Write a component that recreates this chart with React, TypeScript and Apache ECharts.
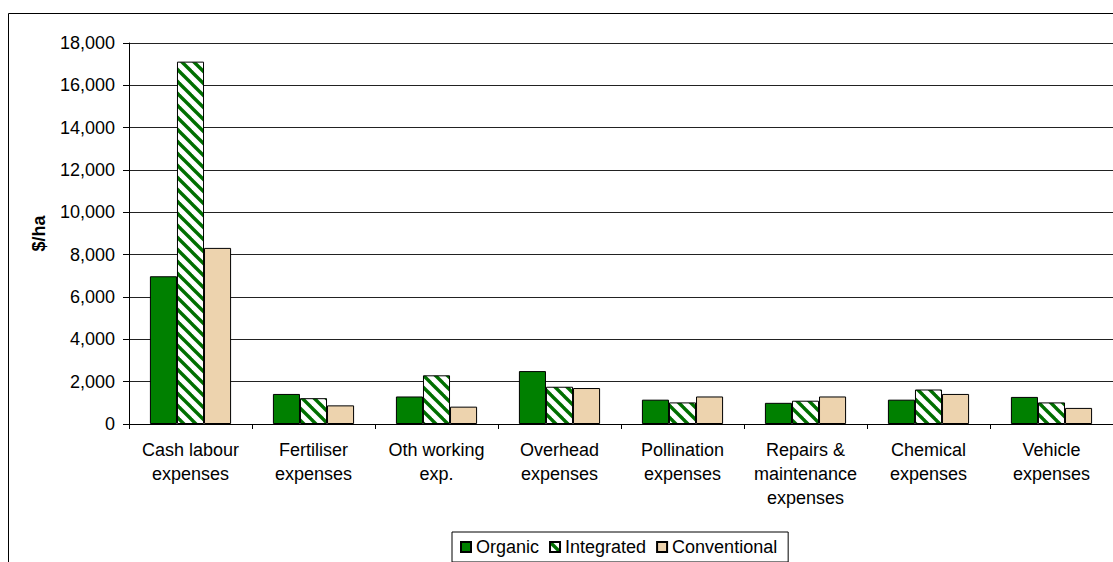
import React, { useEffect, useRef } from "react";
import * as echarts from "echarts";

const categories = [
  "Cash labour\nexpenses",
  "Fertiliser\nexpenses",
  "Oth working\nexp.",
  "Overhead\nexpenses",
  "Pollination\nexpenses",
  "Repairs &\nmaintenance\nexpenses",
  "Chemical\nexpenses",
  "Vehicle\nexpenses",
];
const organic = [6980, 1420, 1300, 2500, 1150, 1000, 1150, 1280];
const integrated = [17120, 1220, 2300, 1760, 1020, 1100, 1630, 1020];
const conventional = [8320, 880, 820, 1700, 1300, 1300, 1420, 760];
const seriesNames = ["Organic", "Integrated", "Conventional"];
const yAxisTitle = "$/ha";

const FONT = "'Liberation Sans', Arial, sans-serif";

function makeHatch(): string {
  const s = 12;
  const c = document.createElement("canvas");
  c.width = s;
  c.height = s;
  const ctx = c.getContext("2d")!;
  ctx.fillStyle = "#ffffff";
  ctx.fillRect(0, 0, s, s);
  ctx.strokeStyle = "#006f00";
  ctx.lineWidth = 3.4;
  for (const o of [-s, 0, s]) {
    ctx.beginPath();
    ctx.moveTo(-2, o - 2);
    ctx.lineTo(s + 2, s + o + 2);
    ctx.stroke();
  }
  return c.toDataURL();
}

export default function App() {
  const ref = useRef<HTMLDivElement>(null);
  useEffect(() => {
    if (!ref.current) return;
    const chart = echarts.init(ref.current, undefined, { renderer: "svg" });
    const hatch = {
      image: makeHatch(),
      repeat: "repeat",
      imageWidth: 12,
      imageHeight: 12,
    } as any;
    const border = { borderColor: "#000", borderWidth: 1 };
    chart.setOption({
      animation: false,
      textStyle: { fontFamily: FONT },
      graphic: [
        {
          type: "rect",
          shape: { x: 8.5, y: 13.5, width: 1200, height: 700 },
          style: { fill: "none", stroke: "#000", lineWidth: 1 },
          silent: true,
        },
      ],
      legend: {
        left: 452,
        top: 532,
        padding: [6, 11, 6, 8],
        itemGap: 10,
        itemWidth: 10,
        itemHeight: 10,
        icon: "rect",
        borderColor: "#000",
        borderWidth: 1,
        textStyle: { fontSize: 18, color: "#000", fontFamily: FONT },
        data: seriesNames,
      },
      grid: { left: 129, top: 43, width: 985, height: 381, containLabel: false },
      xAxis: {
        type: "category",
        data: categories,
        axisLine: { lineStyle: { color: "#000", width: 1 } },
        axisTick: { show: true, length: 5, lineStyle: { color: "#000" } },
        axisLabel: {
          color: "#000",
          fontSize: 18,
          lineHeight: 24,
          margin: 14,
          interval: 0,
          fontFamily: FONT,
        },
      },
      yAxis: {
        type: "value",
        min: 0,
        max: 18000,
        interval: 2000,
        name: yAxisTitle,
        nameLocation: "middle",
        nameGap: 81,
        nameTextStyle: { fontSize: 18, fontWeight: "bold", color: "#000", fontFamily: FONT },
        axisLine: { show: true, lineStyle: { color: "#000", width: 1 } },
        axisTick: { show: true, length: 6, lineStyle: { color: "#000" } },
        axisLabel: {
          color: "#000",
          fontSize: 18,
          margin: 14,
          fontFamily: FONT,
          formatter: (v: number) => v.toLocaleString("en-US"),
        },
        splitLine: { show: true, lineStyle: { color: "#222", width: 1 } },
      },
      series: [
        {
          name: seriesNames[0],
          type: "bar",
          data: organic,
          barGap: "0%",
          barCategoryGap: "34%",
          itemStyle: { color: "#008000", ...border },
        },
        {
          name: seriesNames[1],
          type: "bar",
          data: integrated,
          barGap: "0%",
          barCategoryGap: "34%",
          itemStyle: { color: hatch, ...border },
        },
        {
          name: seriesNames[2],
          type: "bar",
          data: conventional,
          barGap: "0%",
          barCategoryGap: "34%",
          itemStyle: { color: "#EDD3AE", ...border },
        },
      ],
    });
    return () => chart.dispose();
  }, []);
  return (
    <div
      ref={ref}
      style={{ position: "fixed", left: 0, top: 0, width: 1113, height: 562, background: "#fff" }}
    />
  );
}
